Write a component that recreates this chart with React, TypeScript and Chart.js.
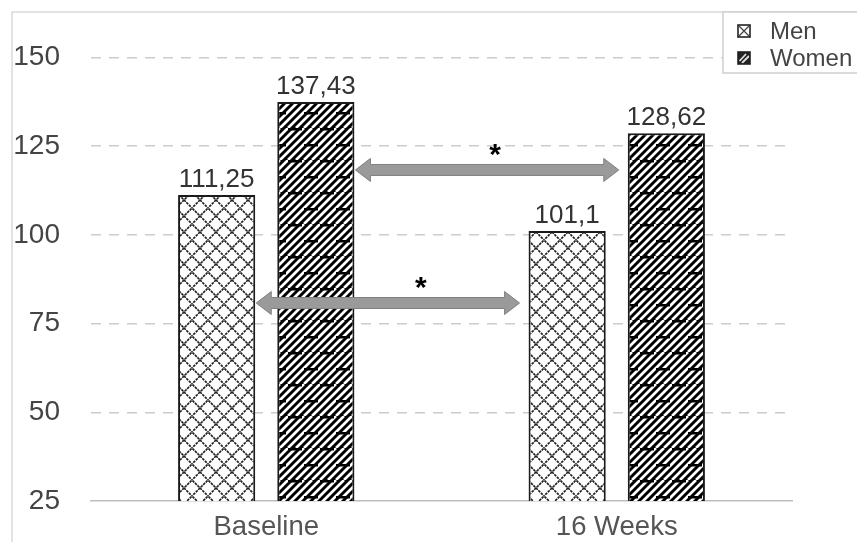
import React, { useEffect, useRef } from "react";
import { Chart, registerables } from "chart.js";

Chart.register(...registerables);

const categories = ["Baseline", "16 Weeks"];
const seriesNames = ["Men", "Women"];
const menValues = [111.25, 101.1];
const womenValues = [137.43, 128.62];
const menLabels = ["111,25", "101,1"];
const womenLabels = ["137,43", "128,62"];
const yTicks = [25, 50, 75, 100, 125, 150];
// significance arrows: between bars (dataset, index) at a y value
const arrows = [
  { from: [1, 0], to: [1, 1], y: 118.3, starShift: 8 },
  { from: [0, 0], to: [0, 1], y: 80.8, starShift: 33 },
];

const FONT = "'Liberation Sans', Arial, Helvetica, sans-serif";

function makeMenPattern(): CanvasPattern | string {
  const c = document.createElement("canvas");
  const s = 16;
  c.width = s;
  c.height = s;
  const g = c.getContext("2d")!;
  g.fillStyle = "#fff";
  g.fillRect(0, 0, s, s);
  g.strokeStyle = "#222";
  g.lineWidth = 1.7;
  g.setLineDash([2.6, 0.9]);
  g.beginPath();
  for (const o of [-s, 0, s]) {
    g.moveTo(o - 2, -2);
    g.lineTo(o + s + 2, s + 2);
    g.moveTo(o + s + 2, -2);
    g.lineTo(o - 2, s + 2);
  }
  g.stroke();
  return g.createPattern(c, "repeat") || "#fff";
}

function makeWomenPattern(): CanvasPattern | string {
  const c = document.createElement("canvas");
  const w = 32;
  const h = 32;
  c.width = w;
  c.height = h;
  const g = c.getContext("2d")!;
  g.fillStyle = "#000";
  g.fillRect(0, 0, w, h);
  g.strokeStyle = "#fff";
  g.lineWidth = 2.7;
  const step = 8;
  g.beginPath();
  for (let k = -w * 2; k <= w * 2; k += step) {
    g.moveTo(k, h);
    g.lineTo(k + h, 0);
  }
  g.stroke();
  g.fillStyle = "#000";
  g.fillRect(0, 0, 14, 2.5);
  g.fillRect(16, 16, 14, 2.5);
  return g.createPattern(c, "repeat") || "#000";
}

function drawArrow(ctx: CanvasRenderingContext2D, x1: number, x2: number, y: number) {
  const shaft = 5.5;
  const head = 11.5;
  const headLen = 15;
  ctx.beginPath();
  ctx.moveTo(x1, y);
  ctx.lineTo(x1 + headLen, y - head);
  ctx.lineTo(x1 + headLen, y - shaft);
  ctx.lineTo(x2 - headLen, y - shaft);
  ctx.lineTo(x2 - headLen, y - head);
  ctx.lineTo(x2, y);
  ctx.lineTo(x2 - headLen, y + head);
  ctx.lineTo(x2 - headLen, y + shaft);
  ctx.lineTo(x1 + headLen, y + shaft);
  ctx.lineTo(x1 + headLen, y + head);
  ctx.closePath();
  ctx.fillStyle = "#9a9a9a";
  ctx.fill();
  ctx.strokeStyle = "#808080";
  ctx.lineWidth = 1;
  ctx.stroke();
}

const decorPlugin = {
  id: "decor",
  beforeDraw(chart: any) {
    const ctx = chart.ctx as CanvasRenderingContext2D;
    ctx.save();
    ctx.fillStyle = "#fff";
    ctx.fillRect(0, 0, chart.width, chart.height);
    ctx.strokeStyle = "#d9d9d9";
    ctx.lineWidth = 1.5;
    ctx.beginPath();
    ctx.moveTo(12, chart.height);
    ctx.lineTo(12, 12);
    ctx.lineTo(chart.width, 12);
    ctx.stroke();
    ctx.restore();
  },
  afterDatasetsDraw(chart: any) {
    const ctx = chart.ctx as CanvasRenderingContext2D;
    const yScale = chart.scales.y;
    const labelSets = [menLabels, womenLabels];
    ctx.save();
    // value labels
    ctx.font = `26px ${FONT}`;
    ctx.fillStyle = "#333";
    ctx.textAlign = "center";
    ctx.textBaseline = "alphabetic";
    chart.data.datasets.forEach((_: any, di: number) => {
      const meta = chart.getDatasetMeta(di);
      meta.data.forEach((bar: any, i: number) => {
        ctx.fillText(labelSets[di][i], bar.x, bar.y - 8);
      });
    });
    // arrows
    arrows.forEach((a) => {
      const b1 = chart.getDatasetMeta(a.from[0]).data[a.from[1]] as any;
      const b2 = chart.getDatasetMeta(a.to[0]).data[a.to[1]] as any;
      const x1 = b1.x + b1.width / 2 + 1;
      const x2 = b2.x - b2.width / 2 - 9;
      const y = yScale.getPixelForValue(a.y);
      drawArrow(ctx, x1, x2, y);
      ctx.font = `bold 30px ${FONT}`;
      ctx.fillStyle = "#000";
      ctx.textAlign = "center";
      ctx.textBaseline = "middle";
      ctx.fillText("*", (x1 + x2) / 2 + a.starShift, y - 14);
    });
    // legend
    const lx = 723;
    const ly = 12;
    ctx.fillStyle = "#fff";
    ctx.fillRect(lx, ly, chart.width - lx, 61);
    ctx.strokeStyle = "#cfcfcf";
    ctx.lineWidth = 1.5;
    ctx.strokeRect(lx, ly, chart.width - lx + 5, 61);
    seriesNames.forEach((name, i) => {
      const cy = 31 + i * 27;
      const sx = 738;
      const sy = cy - 6;
      ctx.fillStyle = i === 0 ? "#fff" : "#222";
      ctx.fillRect(sx, sy, 12, 12);
      if (i === 0) {
        ctx.strokeStyle = "#444";
        ctx.lineWidth = 1.3;
        ctx.beginPath();
        ctx.moveTo(sx + 1, sy + 1);
        ctx.lineTo(sx + 11, sy + 11);
        ctx.moveTo(sx + 11, sy + 1);
        ctx.lineTo(sx + 1, sy + 11);
        ctx.stroke();
      } else {
        ctx.strokeStyle = "#ddd";
        ctx.lineWidth = 1.8;
        ctx.beginPath();
        ctx.moveTo(sx + 1.5, sy + 9);
        ctx.lineTo(sx + 8, sy + 2);
        ctx.moveTo(sx + 4, sy + 11);
        ctx.lineTo(sx + 11, sy + 4);
        ctx.stroke();
      }
      ctx.strokeStyle = "#222";
      ctx.lineWidth = 1.6;
      ctx.strokeRect(sx, sy, 12, 12);
      ctx.font = `24px ${FONT}`;
      ctx.fillStyle = "#444";
      ctx.textAlign = "left";
      ctx.textBaseline = "middle";
      ctx.fillText(name, 770, cy + 1);
    });
    ctx.restore();
  },
};

export default function App() {
  const ref = useRef<HTMLCanvasElement | null>(null);
  useEffect(() => {
    if (!ref.current) return;
    const chart = new Chart(ref.current, {
      type: "bar",
      data: {
        labels: categories,
        datasets: [
          {
            label: seriesNames[0],
            data: menValues,
            backgroundColor: makeMenPattern() as any,
            borderColor: "#1a1a1a",
            borderWidth: 2,
            borderSkipped: false,
            categoryPercentage: 0.566,
            barPercentage: 0.778,
          },
          {
            label: seriesNames[1],
            data: womenValues,
            backgroundColor: makeWomenPattern() as any,
            borderColor: "#1a1a1a",
            borderWidth: 2,
            borderSkipped: false,
            categoryPercentage: 0.566,
            barPercentage: 0.778,
          },
        ],
      },
      options: {
        animation: false,
        responsive: false,
        maintainAspectRatio: false,
        devicePixelRatio: 1,
        layout: { padding: { top: 22, right: 65, bottom: 0, left: 0 } },
        plugins: {
          legend: { display: false },
          tooltip: { enabled: false },
        },
        scales: {
          x: {
            grid: { display: false, drawTicks: false },
            border: { display: true, color: "#bdbdbd", width: 1.5 },
            ticks: {
              padding: 10,
              color: "#555",
              font: { family: FONT, size: 27.5 },
            },
            afterFit(scale: any) {
              scale.height = 41;
              scale.paddingLeft = 0;
              scale.paddingRight = 0;
            },
          },
          y: {
            min: 25,
            max: 160,
            afterBuildTicks(scale: any) {
              scale.ticks = yTicks.map((v) => ({ value: v }));
            },
            afterFit(scale: any) {
              scale.width = 91;
              scale.paddingTop = 0;
              scale.paddingBottom = 0;
            },
            border: { display: false, dash: [10, 8] },
            grid: {
              drawTicks: false,
              color: (c: any) => (c.tick && c.tick.value === 25 ? "rgba(0,0,0,0)" : "#cccccc"),
              lineWidth: 1.5,
            },
            ticks: {
              padding: 31,
              color: "#444",
              font: { family: FONT, size: 28 },
            },
          },
        },
      },
      plugins: [decorPlugin],
    });
    return () => chart.destroy();
  }, []);
  return (
    <div style={{ position: "absolute", left: 0, top: 0, width: 857, height: 542 }}>
      <canvas ref={ref} width={857} height={542} style={{ width: 857, height: 542, display: "block" }} />
    </div>
  );
}
